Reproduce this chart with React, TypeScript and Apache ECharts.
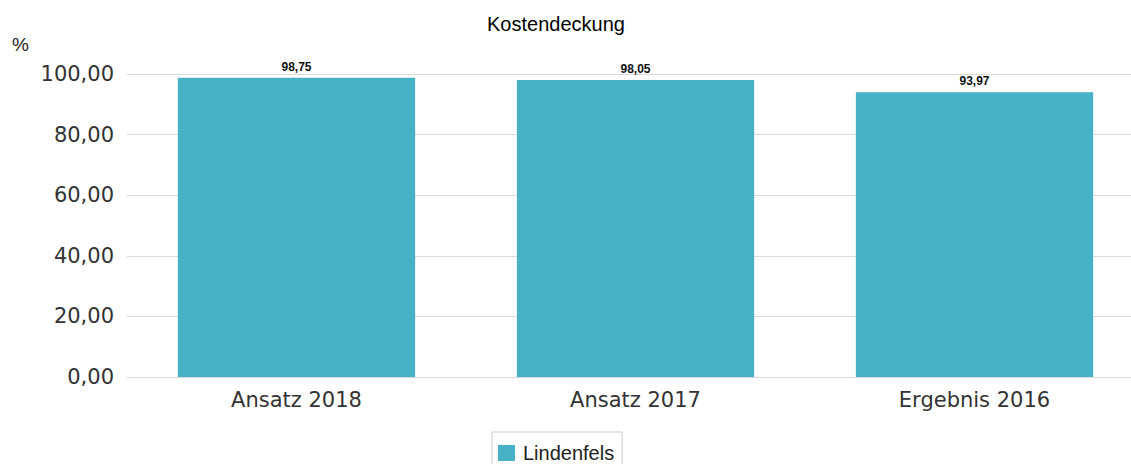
import React, { useEffect, useRef } from "react";
import * as echarts from "echarts";

const categories = ["Ansatz 2018", "Ansatz 2017", "Ergebnis 2016"];
const values = [98.75, 98.05, 93.97];
const seriesName = "Lindenfels";
const yTicks = { min: 0, max: 100, interval: 20 };

const fmt = (v: number) => v.toFixed(2).replace(".", ",");

export default function App() {
  const ref = useRef<HTMLDivElement>(null);
  useEffect(() => {
    if (!ref.current) return;
    const chart = echarts.init(ref.current, null, { renderer: "svg" });
    chart.setOption({
      animation: false,
      backgroundColor: "#fff",
      title: {
        text: "Kostendeckung",
        left: 482,
        top: 9,
        textStyle: {
          fontFamily: "Liberation Sans",
          fontSize: 20,
          fontWeight: "normal",
          color: "#000",
        },
      },
      graphic: [
        {
          type: "text",
          left: 12,
          top: 35,
          style: {
            text: "%",
            font: "19px 'Liberation Sans'",
            fill: "#222",
          },
        },
      ],
      legend: {
        left: 492,
        top: 432,
        data: [seriesName],
        icon: "rect",
        itemWidth: 17,
        itemHeight: 16,
        borderColor: "#ccc",
        borderWidth: 1,
        padding: [11, 8, 11, 6],
        textStyle: {
          fontFamily: "Liberation Sans",
          fontSize: 20,
          color: "#222",
          padding: [0, 0, 0, 3],
        },
      },
      grid: { left: 127, top: 74, width: 1017, height: 303, containLabel: false },
      xAxis: {
        type: "category",
        data: categories,
        axisLine: { lineStyle: { color: "#d9d9d9" } },
        axisTick: { show: false },
        axisLabel: {
          fontFamily: "DejaVu Sans",
          fontSize: 21,
          color: "#333",
          margin: 12,
        },
      },
      yAxis: {
        type: "value",
        min: yTicks.min,
        max: yTicks.max,
        interval: yTicks.interval,
        axisLine: { show: false },
        axisTick: { show: false },
        splitLine: { lineStyle: { color: "#d9d9d9" } },
        axisLabel: {
          fontFamily: "DejaVu Sans",
          fontSize: 21,
          color: "#333",
          margin: 13,
          formatter: (v: number) => fmt(v),
        },
      },
      series: [
        {
          name: seriesName,
          type: "bar",
          data: values,
          barCategoryGap: "30%",
          itemStyle: { color: "#47b1c6" },
          label: {
            show: true,
            position: "top",
            distance: 5,
            fontFamily: "Liberation Sans",
            fontSize: 12,
            fontWeight: "bold",
            color: "#111",
            formatter: (p: any) => fmt(p.value),
          },
        },
      ],
    });
    return () => chart.dispose();
  }, []);
  return (
    <div
      style={{
        position: "absolute",
        left: 0,
        top: 0,
        width: 1131,
        height: 464,
        overflow: "hidden",
        background: "#fff",
      }}
    >
      <div ref={ref} style={{ width: 1160, height: 464 }} />
    </div>
  );
}
